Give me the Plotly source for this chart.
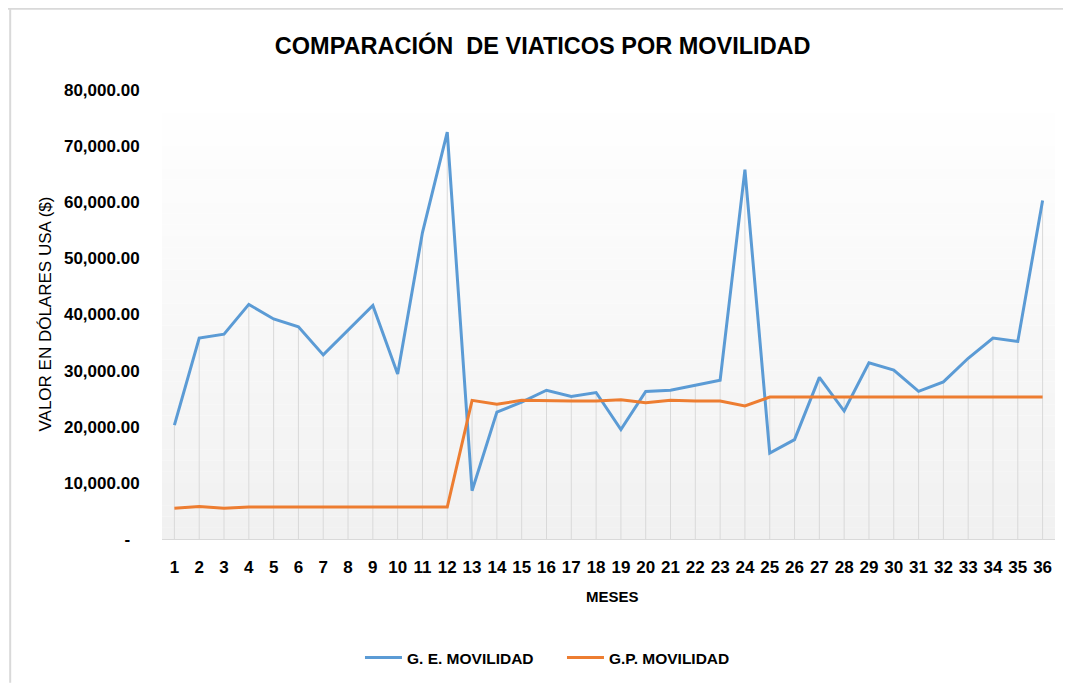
import plotly.graph_objects as go

# Datos
meses = list(range(1, 37))
ge_movilidad = [20300, 35800, 36500, 41800, 39200, 37800, 32800, 37200, 41600, 29400,
                54600, 72500, 8600, 22600, 24400, 26500, 25400, 26100, 19500, 26300,
                26500, 27400, 28300, 65800, 15300, 17700, 28800, 22800, 31400, 30100,
                26300, 28000, 32200, 35800, 35200, 60300]
gp_movilidad = [5500, 5800, 5500, 5700, 5700, 5700, 5700, 5700, 5700, 5700,
                5700, 5700, 24700, 24000, 24700, 24600, 24600, 24600, 24800, 24300,
                24700, 24600, 24600, 23700, 25300, 25300, 25300, 25300, 25300, 25300,
                25300, 25300, 25300, 25300, 25300, 25300]
y_ticks = [0, 10000, 20000, 30000, 40000, 50000, 60000, 70000, 80000]
y_ticktext = ["-  ", "10,000.00", "20,000.00", "30,000.00", "40,000.00",
              "50,000.00", "60,000.00", "70,000.00", "80,000.00"]

FONT = "Liberation Sans, Arial, sans-serif"
AZUL = "#5B9BD5"
NARANJA = "#ED7D31"

fig = go.Figure()

# Lineas de caida (drop lines) desde el punto mas alto hasta el eje
drop_x, drop_y = [], []
for m, a, b in zip(meses, ge_movilidad, gp_movilidad):
    drop_x += [m, m, None]
    drop_y += [0, max(a, b), None]
fig.add_trace(go.Scatter(x=drop_x, y=drop_y, mode="lines",
                         line=dict(color="#d9d9d9", width=1),
                         showlegend=False, hoverinfo="skip"))

fig.add_trace(go.Scatter(x=meses, y=ge_movilidad, mode="lines", name="<b>G. E. MOVILIDAD</b>",
                         line=dict(color=AZUL, width=3)))
fig.add_trace(go.Scatter(x=meses, y=gp_movilidad, mode="lines", name="<b>G.P. MOVILIDAD</b>",
                         line=dict(color=NARANJA, width=3)))

# Fondo degradado del area de trazado (franjas)
shapes = []
n = 40
for i in range(n):
    t = i / (n - 1)
    g = int(round(255 - 14 * (1 - t)))
    shapes.append(dict(type="rect", xref="paper", yref="paper", x0=0, x1=1,
                       y0=i / n, y1=(i + 1) / n, layer="below", line_width=0,
                       fillcolor=f"rgb({g},{g},{g})"))
# Borde del grafico (superior e izquierdo)
shapes.append(dict(type="line", xref="paper", yref="paper", x0=-0.175, x1=1.02,
                   y0=1.182, y1=1.182, line=dict(color="#d9d9d9", width=3)))
shapes.append(dict(type="line", xref="paper", yref="paper", x0=-0.170, x1=-0.170,
                   y0=-0.32, y1=1.182, line=dict(color="#d9d9d9", width=2)))

fig.update_layout(
    width=1063, height=678,
    margin=dict(l=154, r=16, t=82, b=146),
    paper_bgcolor="white",
    plot_bgcolor="white",
    font=dict(family=FONT, color="black"),
    title=dict(text="<b>COMPARACIÓN  DE VIATICOS POR MOVILIDAD</b>",
               x=0.503, xanchor="center", y=0.945, yanchor="middle",
               font=dict(size=23.5, family=FONT, color="black")),
    xaxis=dict(range=[0.5, 36.5], tickvals=meses, ticktext=[f"<b>{m}</b>" for m in meses],
               showgrid=False, zeroline=False, showline=True, linecolor="#d9d9d9",
               linewidth=1, ticks="outside", ticklen=13, tickcolor="rgba(0,0,0,0)",
               tickfont=dict(size=17)),
    yaxis=dict(range=[0, 80000], tickvals=y_ticks,
               ticktext=[f"<b>{t}</b>" for t in y_ticktext],
               showgrid=False, zeroline=False, ticks="outside", ticklen=18,
               tickcolor="rgba(0,0,0,0)", tickfont=dict(size=17)),
    legend=dict(orientation="h", x=0.2217, xanchor="left", y=-0.262, yanchor="middle",
                font=dict(size=15.5), itemwidth=37, entrywidth=150,
                bgcolor="rgba(0,0,0,0)"),
    shapes=shapes,
    annotations=[
        dict(text="<b>MESES</b>", xref="paper", yref="paper", x=0.504, y=-0.129,
             yanchor="middle", showarrow=False, font=dict(size=15)),
        dict(text="VALOR EN DÓLARES USA ($)", xref="paper", yref="paper",
             x=-0.131, y=0.5, xanchor="center", yanchor="middle", textangle=-90,
             showarrow=False, font=dict(size=17)),
    ],
)

fig.write_html("out.html")
